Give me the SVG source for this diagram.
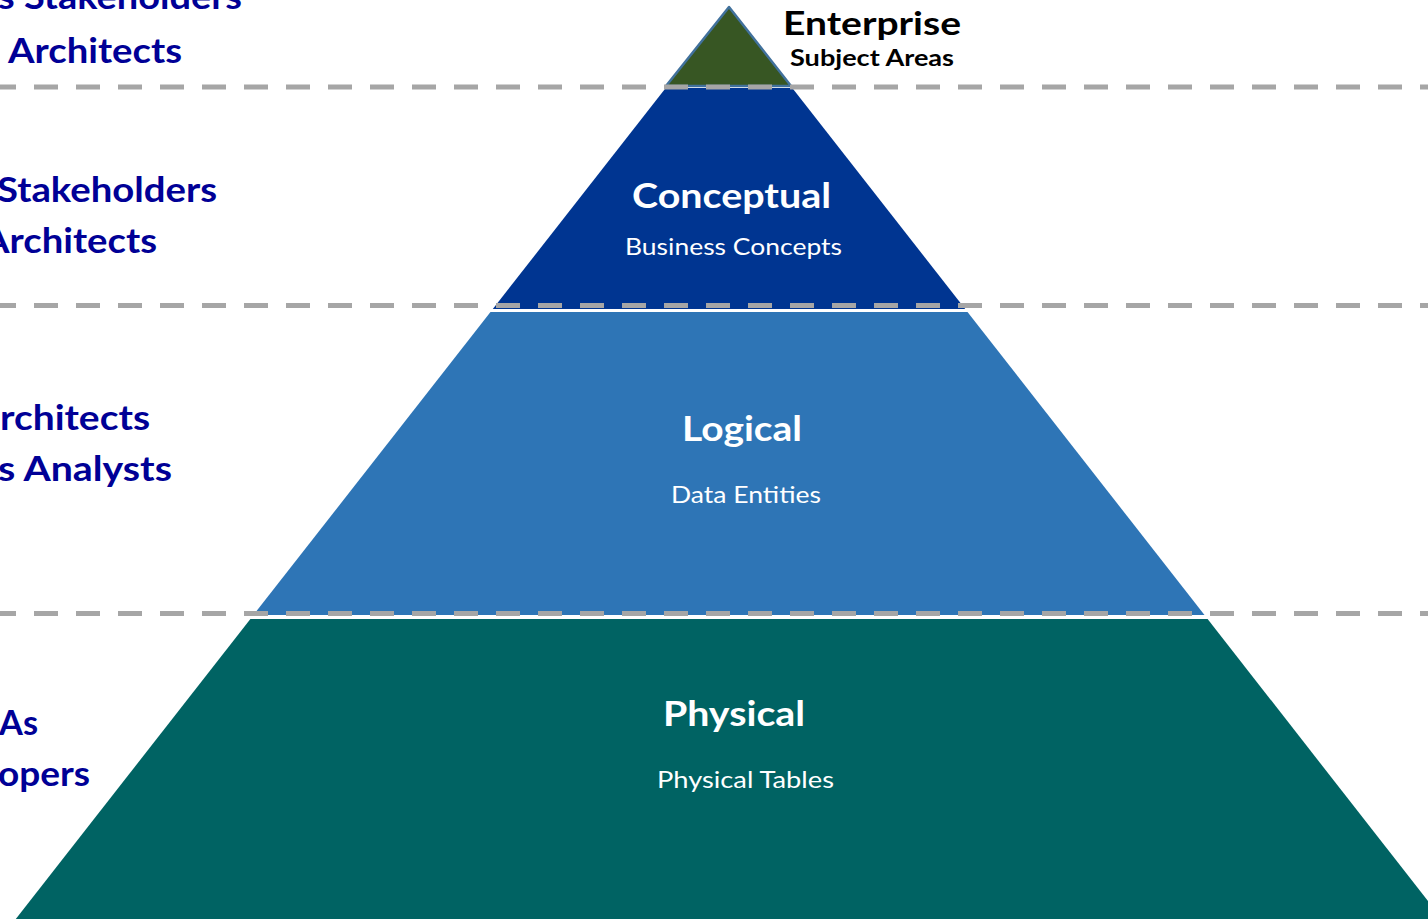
<svg xmlns="http://www.w3.org/2000/svg" width="1428" height="919" viewBox="0 0 1428 919">
  <style>
    .side { font-family: Lato, "Open Sans", "Liberation Sans", sans-serif; font-weight: 700; font-size: 35px; fill: #000096; }
    .title { font-family: Lato, "Open Sans", "Liberation Sans", sans-serif; font-weight: 700; font-size: 34px; fill: #ffffff; text-anchor: middle; }
    .sub { font-family: Lato, "Open Sans", "Liberation Sans", sans-serif; font-weight: 400; font-size: 23px; fill: #ffffff; text-anchor: middle; }
    .ent { font-family: Lato, "Open Sans", "Liberation Sans", sans-serif; font-weight: 700; fill: #000000; text-anchor: middle; }
    .dash { stroke: #a6a6a6; stroke-width: 5; stroke-dasharray: 24 18; fill: none; }
  </style>
  <rect width="1428" height="919" fill="#ffffff"/>

  <g id="physical">
    <polygon points="250.4,619 1207.6,619 1442,919 15.8,919" fill="#006363"/>
    <text class="title" x="734" y="726" textLength="142" lengthAdjust="spacingAndGlyphs">Physical</text>
    <text class="sub" x="745.5" y="788" textLength="177" lengthAdjust="spacingAndGlyphs">Physical Tables</text>
  </g>

  <g id="logical">
    <polygon points="490.5,312 967.5,312 1204.5,615 253.5,615" fill="#2e75b6"/>
    <text class="title" x="742" y="441" textLength="120" lengthAdjust="spacingAndGlyphs">Logical</text>
    <text class="sub" x="746" y="503" textLength="150" lengthAdjust="spacingAndGlyphs">Data Entities</text>
  </g>

  <g id="conceptual">
    <polygon points="665.7,88 792.3,88 965.2,309 492.8,309" fill="#003591"/>
    <text class="title" x="731.5" y="208" textLength="199" lengthAdjust="spacingAndGlyphs">Conceptual</text>
    <text class="sub" x="733.5" y="255" textLength="217" lengthAdjust="spacingAndGlyphs">Business Concepts</text>
  </g>

  <g id="enterprise">
    <polygon points="729,7 791,86 666,86" fill="#375623" stroke="#41719c" stroke-width="2.5" stroke-linejoin="round"/>
    <text class="ent" x="872" y="35" font-size="33" textLength="178" lengthAdjust="spacingAndGlyphs">Enterprise</text>
    <text class="ent" x="872" y="66" font-size="23" textLength="164" lengthAdjust="spacingAndGlyphs">Subject Areas</text>
  </g>

  <g id="connectors">
    <line class="dash" x1="-8" y1="87" x2="1428" y2="87"/>
    <line class="dash" x1="-8" y1="305.5" x2="1428" y2="305.5"/>
    <line class="dash" x1="-8" y1="613.5" x2="1428" y2="613.5"/>
  </g>

  <g id="labels-enterprise">
    <text class="side" x="242" y="9" text-anchor="end" textLength="244" lengthAdjust="spacingAndGlyphs">s Stakeholders</text>
    <text class="side" x="182" y="63" text-anchor="end" textLength="174" lengthAdjust="spacingAndGlyphs">Architects</text>
  </g>
  <g id="labels-conceptual">
    <text class="side" x="217" y="202" text-anchor="end" textLength="220" lengthAdjust="spacingAndGlyphs">Stakeholders</text>
    <text class="side" x="157" y="253" text-anchor="end" textLength="174" lengthAdjust="spacingAndGlyphs">Architects</text>
  </g>
  <g id="labels-logical">
    <text class="side" x="150" y="430" text-anchor="end" textLength="150" lengthAdjust="spacingAndGlyphs">rchitects</text>
    <text class="side" x="172" y="481" text-anchor="end" textLength="174" lengthAdjust="spacingAndGlyphs">s Analysts</text>
  </g>
  <g id="labels-physical">
    <text class="side" x="38" y="735" text-anchor="end" textLength="39" lengthAdjust="spacingAndGlyphs">As</text>
    <text class="side" x="90" y="786" text-anchor="end" textLength="92" lengthAdjust="spacingAndGlyphs">opers</text>
  </g>
</svg>
